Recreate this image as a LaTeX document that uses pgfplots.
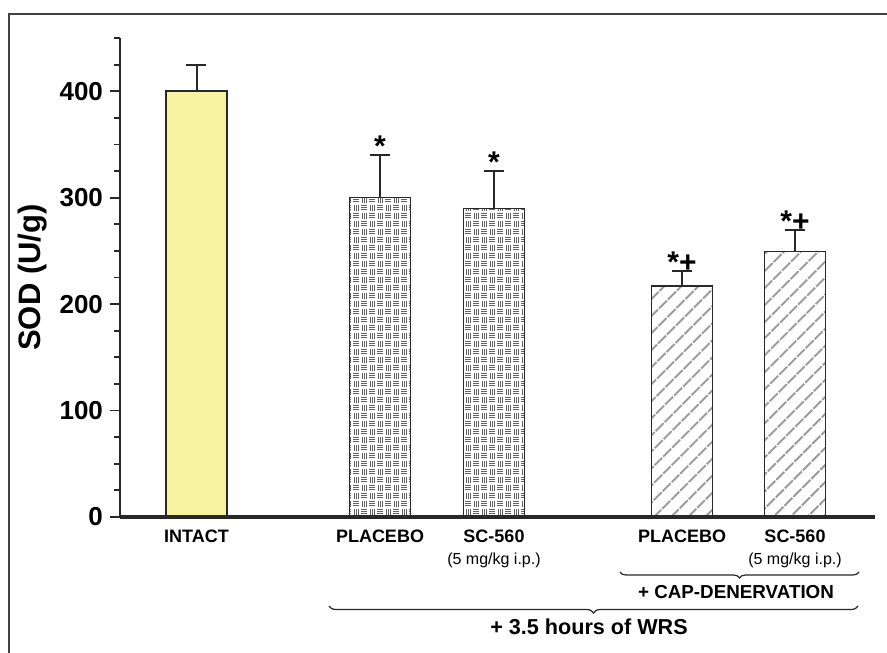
\documentclass[border=0pt]{standalone}
\usepackage{pgfplots}
\pgfplotsset{compat=1.18}
\usepackage{fontspec}
\setmainfont{Liberation Sans}
\usetikzlibrary{patterns,patterns.meta,decorations.pathreplacing}
\definecolor{yellowfill}{RGB}{248,243,160}
\definecolor{edge}{RGB}{40,40,40}
\definecolor{weavecol}{RGB}{100,100,100}
\definecolor{hatchcol}{RGB}{150,150,150}
\pgfdeclarepatternformonly{weave}{\pgfpoint{-0.1pt}{-0.1pt}}{\pgfpoint{8.1pt}{8.1pt}}{\pgfpoint{8pt}{8pt}}{
  \pgfsetlinewidth{0.5pt}
  % bottom-left: horizontal
  \pgfpathmoveto{\pgfpoint{0.6pt}{1.0pt}}\pgfpathlineto{\pgfpoint{3.4pt}{1.0pt}}
  \pgfpathmoveto{\pgfpoint{0.6pt}{2.0pt}}\pgfpathlineto{\pgfpoint{3.4pt}{2.0pt}}
  \pgfpathmoveto{\pgfpoint{0.6pt}{3.0pt}}\pgfpathlineto{\pgfpoint{3.4pt}{3.0pt}}
  % top-right: horizontal
  \pgfpathmoveto{\pgfpoint{4.6pt}{5.0pt}}\pgfpathlineto{\pgfpoint{7.4pt}{5.0pt}}
  \pgfpathmoveto{\pgfpoint{4.6pt}{6.0pt}}\pgfpathlineto{\pgfpoint{7.4pt}{6.0pt}}
  \pgfpathmoveto{\pgfpoint{4.6pt}{7.0pt}}\pgfpathlineto{\pgfpoint{7.4pt}{7.0pt}}
  % bottom-right: vertical
  \pgfpathmoveto{\pgfpoint{5.0pt}{0.6pt}}\pgfpathlineto{\pgfpoint{5.0pt}{3.4pt}}
  \pgfpathmoveto{\pgfpoint{6.0pt}{0.6pt}}\pgfpathlineto{\pgfpoint{6.0pt}{3.4pt}}
  \pgfpathmoveto{\pgfpoint{7.0pt}{0.6pt}}\pgfpathlineto{\pgfpoint{7.0pt}{3.4pt}}
  % top-left: vertical
  \pgfpathmoveto{\pgfpoint{1.0pt}{4.6pt}}\pgfpathlineto{\pgfpoint{1.0pt}{7.4pt}}
  \pgfpathmoveto{\pgfpoint{2.0pt}{4.6pt}}\pgfpathlineto{\pgfpoint{2.0pt}{7.4pt}}
  \pgfpathmoveto{\pgfpoint{3.0pt}{4.6pt}}\pgfpathlineto{\pgfpoint{3.0pt}{7.4pt}}
  \pgfusepath{stroke}
}
\begin{document}
\begin{tikzpicture}
\useasboundingbox (-60pt,-67.5pt) rectangle (383.5pt,258.5pt);
\draw[line width=1pt, black!75] (-55.5pt,-70pt) -- (-55.5pt,251.5pt) -- (390pt,251.5pt);
\begin{axis}[
  at={(0,0)}, anchor=south west,
  scale only axis, width=377.5pt, height=239.5pt,
  xmin=0, xmax=755, ymin=0, ymax=450,
  clip=false, axis on top,
  axis x line=bottom, axis y line=left,
  x axis line style={-, line width=1.6pt, edge},
  y axis line style={-, line width=1pt, edge},
  xtick={76.5,260,374,562,675},
  xticklabels={INTACT, PLACEBO, {SC-560\\{\fontsize{8}{9}\selectfont\mdseries (5 mg/kg i.p.)}}, PLACEBO, {SC-560\\{\fontsize{8}{9}\selectfont\mdseries (5 mg/kg i.p.)}}},
  xticklabel style={font=\fontsize{9}{11}\selectfont\bfseries, align=center, anchor=north, inner sep=0pt, yshift=-1.5pt},
  x tick style={draw=none},
  major x tick style={draw=none},
  ytick={0,100,200,300,400},
  minor ytick={25,50,75,125,150,175,225,250,275,325,350,375,425,450},
  tick align=outside,
  major tick length=5pt, minor tick length=3pt,
  y tick style={line width=0.9pt, edge},
  yticklabel style={font=\fontsize{13}{13}\selectfont\bfseries},
  /pgf/number format/assume math mode=true,
  ylabel={SOD (U/g)},
  ylabel style={font=\fontsize{15.5}{15.5}\selectfont\bfseries, at={([xshift=-43.5pt]axis description cs:0,0.5)}, anchor=center},
  error bars/error bar style={line width=1pt, edge},
  error bars/error mark options={rotate=90, mark size=5pt, line width=1pt, edge},
]
\addplot[ybar, bar width=61, draw=edge, line width=0.8pt, fill=yellowfill,
  error bars/.cd, y dir=plus, y explicit]
  coordinates {(76.5,400) +- (0,25)};
\addplot[ybar, bar width=61, draw=edge, line width=0.8pt, pattern=weave, pattern color=weavecol,
  error bars/.cd, y dir=plus, y explicit]
  coordinates {(260,300) +- (0,40.5) (374,290) +- (0,35)};
\addplot[ybar, bar width=61, draw=edge, line width=0.8pt, pattern={Lines[angle=45, distance=6.4pt, line width=1.2pt]}, pattern color=hatchcol,
  error bars/.cd, y dir=plus, y explicit]
  coordinates {(562,217) +- (0,14) (675,249.5) +- (0,20.5)};
\addplot[draw=none, mark=none, nodes near coords, point meta=explicit symbolic,
  nodes near coords style={anchor=south, font=\fontsize{15}{15}\selectfont\bfseries, inner sep=0pt, yshift=-1pt}]
  table[meta=lab] {
x y lab
260 340.5 *
374 325 *
562 231 *+
675 270 *+
};
\draw[decorate, decoration={brace, amplitude=3pt}, line width=0.6pt, edge]
  ([yshift=-27.5pt]axis cs:739,0) -- ([yshift=-27.5pt]axis cs:500,0);
\node[anchor=base, font=\fontsize{9.4}{10}\selectfont\bfseries] at ([yshift=-40.5pt]axis cs:616,0) {+ CAP-DENERVATION};
\draw[decorate, decoration={brace, amplitude=3.5pt}, line width=0.6pt, edge]
  ([yshift=-44.5pt]axis cs:738,0) -- ([yshift=-44.5pt]axis cs:209,0);
\node[anchor=base, font=\fontsize{10.8}{12}\selectfont\bfseries] at ([yshift=-58.5pt]axis cs:469,0) {+ 3.5 hours of WRS};
\end{axis}
\end{tikzpicture}
\end{document}
